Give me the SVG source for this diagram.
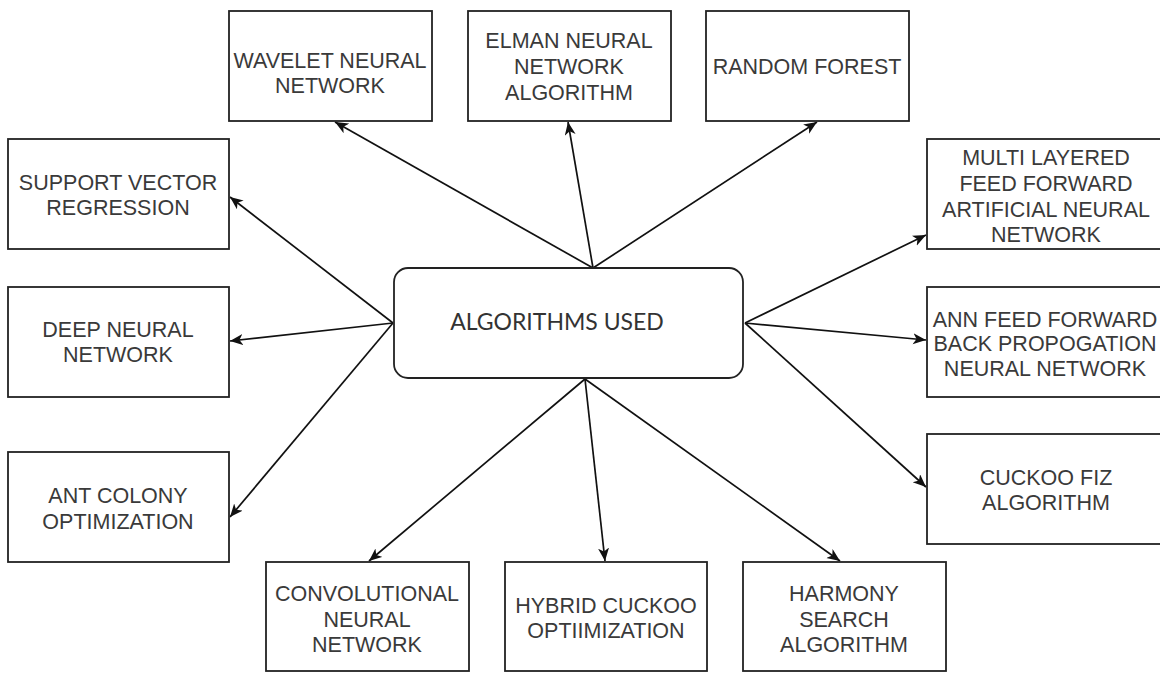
<svg xmlns="http://www.w3.org/2000/svg" width="1160" height="673" viewBox="0 0 1160 673">
<style>
.box{fill:#fff;stroke:#222;stroke-width:1.8}
.t{font-family:"Liberation Sans",Arial,sans-serif;font-size:21.5px;fill:#3a3a3a;text-anchor:middle}
.c{font-family:Lato,"Open Sans",sans-serif;font-size:23px;fill:#333;text-anchor:middle}
.e{fill:none;stroke:#111;stroke-width:1.7;marker-end:url(#ah)}
</style>
<defs>
<marker id="ah" markerUnits="userSpaceOnUse" markerWidth="14" markerHeight="12" refX="13" refY="5.5" orient="auto">
<path d="M0,0 L13,5.5 L0,11 L3.5,5.5 Z" fill="#111"/>
</marker>
</defs>
<rect width="1160" height="673" fill="#fff"/>
<g id="connectors">
<line class="e" x1="593" y1="268" x2="335" y2="122"/>
<line class="e" x1="593" y1="268" x2="568" y2="122"/>
<line class="e" x1="593" y1="268" x2="817" y2="122"/>
<line class="e" x1="393" y1="323" x2="230" y2="197"/>
<line class="e" x1="393" y1="323" x2="230" y2="341"/>
<line class="e" x1="393" y1="323" x2="230" y2="517"/>
<line class="e" x1="585" y1="379" x2="369" y2="561"/>
<line class="e" x1="585" y1="379" x2="605" y2="561"/>
<line class="e" x1="585" y1="379" x2="840" y2="561"/>
<line class="e" x1="745" y1="323" x2="926" y2="235"/>
<line class="e" x1="745" y1="323" x2="926" y2="340"/>
<line class="e" x1="745" y1="323" x2="926" y2="487"/>
</g>
<g id="center">
<rect class="box" x="394" y="268" width="349" height="110" rx="14"/>
<text class="c" x="557" y="330">ALGORITHMS USED</text>
</g>
<g id="wavelet">
<rect class="box" x="229" y="11" width="203" height="110"/>
<text class="t" x="330" y="68">WAVELET NEURAL</text>
<text class="t" x="330" y="93">NETWORK</text>
</g>
<g id="elman">
<rect class="box" x="468" y="11" width="203" height="110"/>
<text class="t" x="569" y="48">ELMAN NEURAL</text>
<text class="t" x="569" y="74">NETWORK</text>
<text class="t" x="569" y="100">ALGORITHM</text>
</g>
<g id="randomforest">
<rect class="box" x="706" y="11" width="203" height="110"/>
<text class="t" x="807" y="74">RANDOM FOREST</text>
</g>
<g id="svr">
<rect class="box" x="8" y="139" width="221" height="110"/>
<text class="t" x="118" y="190">SUPPORT VECTOR</text>
<text class="t" x="118" y="215">REGRESSION</text>
</g>
<g id="dnn">
<rect class="box" x="8" y="287" width="221" height="110"/>
<text class="t" x="118" y="337">DEEP NEURAL</text>
<text class="t" x="118" y="362">NETWORK</text>
</g>
<g id="aco">
<rect class="box" x="8" y="452" width="221" height="110"/>
<text class="t" x="118" y="503">ANT COLONY</text>
<text class="t" x="118" y="529">OPTIMIZATION</text>
</g>
<g id="cnn">
<rect class="box" x="266" y="562" width="203" height="109"/>
<text class="t" x="367" y="601">CONVOLUTIONAL</text>
<text class="t" x="367" y="627">NEURAL</text>
<text class="t" x="367" y="652">NETWORK</text>
</g>
<g id="hybrid">
<rect class="box" x="505" y="562" width="202" height="109"/>
<text class="t" x="606" y="613">HYBRID CUCKOO</text>
<text class="t" x="606" y="638">OPTIIMIZATION</text>
</g>
<g id="harmony">
<rect class="box" x="743" y="562" width="203" height="109"/>
<text class="t" x="844" y="601">HARMONY</text>
<text class="t" x="844" y="627">SEARCH</text>
<text class="t" x="844" y="652">ALGORITHM</text>
</g>
<g id="mlff">
<rect class="box" x="927" y="139" width="240" height="110"/>
<text class="t" x="1046" y="165">MULTI LAYERED</text>
<text class="t" x="1046" y="191">FEED FORWARD</text>
<text class="t" x="1046" y="217">ARTIFICIAL NEURAL</text>
<text class="t" x="1046" y="242">NETWORK</text>
</g>
<g id="annbp">
<rect class="box" x="927" y="287" width="240" height="110"/>
<text class="t" x="1045" y="327">ANN FEED FORWARD</text>
<text class="t" x="1045" y="351">BACK PROPOGATION</text>
<text class="t" x="1045" y="376">NEURAL NETWORK</text>
</g>
<g id="cuckoofiz">
<rect class="box" x="927" y="434" width="240" height="110"/>
<text class="t" x="1046" y="485">CUCKOO FIZ</text>
<text class="t" x="1046" y="510">ALGORITHM</text>
</g>
</svg>
